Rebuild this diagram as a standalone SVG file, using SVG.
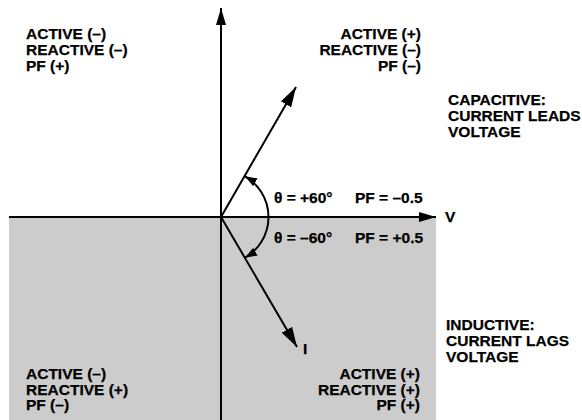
<svg xmlns="http://www.w3.org/2000/svg" width="582" height="420" viewBox="0 0 582 420">
<style>
  text { font-family: "Liberation Sans", Arial, sans-serif; font-weight: bold; font-size: 15.5px; fill: #000; stroke: #000; stroke-width: 0.25; }
  .r { text-anchor: end; }
  .ln { stroke: #000; stroke-width: 2; fill: none; }
</style>
<defs>
  <marker id="ax" markerUnits="userSpaceOnUse" markerWidth="18" markerHeight="10" refX="17" refY="5" orient="auto">
    <path d="M0,0 L17,5 L0,10 z" fill="#000"/>
  </marker>
  <marker id="vec" markerUnits="userSpaceOnUse" markerWidth="21" markerHeight="12" refX="20" refY="6" orient="auto">
    <path d="M0,0 L20,6 L0,12 z" fill="#000"/>
  </marker>
  <marker id="arc" markerUnits="userSpaceOnUse" markerWidth="13" markerHeight="9" refX="12" refY="4.5" orient="auto-start-reverse">
    <path d="M0,0 L12,4.5 L0,9 z" fill="#000"/>
  </marker>
</defs>
<rect x="9" y="217" width="427" height="203" fill="#cccccc"/>
<g id="connectors">
  <path class="ln" d="M9,217 L436,217" marker-end="url(#ax)"/>
  <path class="ln" d="M221,420 L221,8" marker-end="url(#ax)"/>
  <path class="ln" d="M221,217 L296,87" marker-end="url(#vec)"/>
  <path class="ln" d="M221,217 L297,347" marker-end="url(#vec)"/>
  <path class="ln" d="M245,176.3 A47,47 0 0 1 245,257.7" marker-start="url(#arc)" marker-end="url(#arc)"/>
</g>
<g id="q2">
  <text x="26" y="39">ACTIVE (–)</text>
  <text x="26" y="55">REACTIVE (–)</text>
  <text x="26" y="71">PF (+)</text>
</g>
<g id="q1">
  <text class="r" x="421" y="39">ACTIVE (+)</text>
  <text class="r" x="421" y="55">REACTIVE (–)</text>
  <text class="r" x="421" y="71">PF (–)</text>
</g>
<g id="capacitive">
  <text x="448" y="105">CAPACITIVE:</text>
  <text x="448" y="121">CURRENT LEADS</text>
  <text x="448" y="137">VOLTAGE</text>
</g>
<g id="angles">
  <text x="274" y="203">θ = +60°</text>
  <text x="355" y="203">PF = –0.5</text>
  <text x="274" y="243">θ = –60°</text>
  <text x="355" y="243">PF = +0.5</text>
</g>
<g id="labelV"><text x="445" y="222">V</text></g>
<g id="labelI"><text x="303" y="354">I</text></g>
<g id="inductive">
  <text x="446" y="330">INDUCTIVE:</text>
  <text x="446" y="346">CURRENT LAGS</text>
  <text x="446" y="362">VOLTAGE</text>
</g>
<g id="q3">
  <text x="26" y="379">ACTIVE (–)</text>
  <text x="26" y="394.5">REACTIVE (+)</text>
  <text x="26" y="410">PF (–)</text>
</g>
<g id="q4">
  <text class="r" x="420" y="379">ACTIVE (+)</text>
  <text class="r" x="420" y="394.5">REACTIVE (+)</text>
  <text class="r" x="420" y="410">PF (+)</text>
</g>
</svg>
